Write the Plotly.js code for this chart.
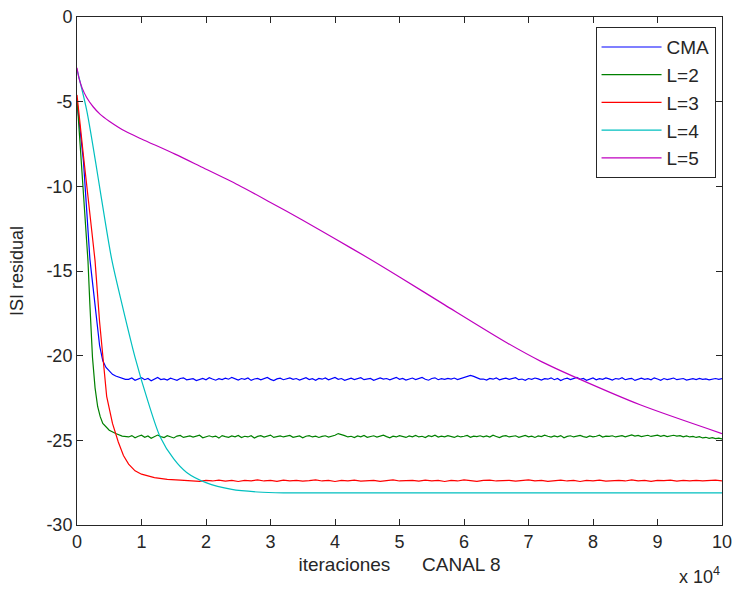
<!DOCTYPE html>
<html>
<head>
<meta charset="utf-8">
<script src="https://cdn.plot.ly/plotly-3.0.1.min.js"></script>
<style>html,body{margin:0;padding:0;background:#fff}#chart{width:732px;height:590px}</style>
</head>
<body>
<div id="chart"></div>
<script>
// ---- data (x in units of 10^4 iterations, y = residual ISI in dB) ----
var seriesNames = ["CMA", "L=2", "L=3", "L=4", "L=5"];
var seriesColors = ["#0000FF", "#008000", "#FF0000", "#00BFBF", "#BF00BF"];

// transient parts
var cmaTx = [0, 0.05, 0.1, 0.15, 0.2, 0.25, 0.3, 0.35, 0.4, 0.45, 0.5, 0.55, 0.6, 0.7, 0.75];
var cmaTy = [-5.0, -6.8, -8.5, -11.4, -14.3, -16.0, -17.8, -19.4, -20.3, -20.7, -20.9, -21.1, -21.2, -21.35, -21.4];

var l2Tx = [0, 0.03, 0.06, 0.1, 0.14, 0.17, 0.2, 0.24, 0.28, 0.32, 0.36, 0.4, 0.5, 0.6, 0.7, 0.75];
var l2Ty = [-4.8, -6.5, -8.4, -10.8, -13.2, -14.4, -17.0, -20.1, -21.9, -23.0, -23.6, -24.0, -24.4, -24.6, -24.75, -24.78];

var l3Tx = [0, 0.05, 0.1, 0.17, 0.23, 0.28, 0.35, 0.4, 0.46, 0.55, 0.64, 0.72, 0.8, 0.9, 1.0, 1.2, 1.4, 1.6, 1.7];
var l3Ty = [-4.6, -6.5, -8.2, -10.6, -12.6, -14.4, -18.0, -20.1, -22.4, -24.0, -25.1, -25.9, -26.4, -26.8, -27.0, -27.2, -27.3, -27.35, -27.38];

var l4x = [0, 0.15, 0.29, 0.37, 0.54, 0.7, 0.9, 1.1, 1.29, 1.5, 1.7, 2.0, 2.4, 2.8, 3.2, 4, 6, 8, 10];
var l4y = [-3.1, -5.5, -8.6, -10.5, -14.35, -17.0, -20.1, -22.7, -24.8, -26.1, -26.9, -27.5, -27.9, -28.05, -28.1, -28.1, -28.1, -28.1, -28.1];

var l5x = [0, 0.03, 0.08, 0.15, 0.25, 0.36, 0.5, 0.75, 1.0, 1.52, 1.9, 2.5, 3.0, 3.5, 4.0, 4.5, 5.0, 5.7, 6.67, 7.2, 7.8, 8.73, 10];
var l5y = [-3.0, -3.6, -4.2, -4.75, -5.3, -5.75, -6.15, -6.75, -7.2, -8.1, -8.8, -9.92, -10.95, -12.0, -13.1, -14.2, -15.35, -17.0, -19.25, -20.35, -21.4, -22.9, -24.6];

// steady-state samples (every 0.05 from 0.8 to 10 for CMA and L=2)
var cmaSteady = [
-21.40,-21.32,-21.45,-21.38,-21.30,-21.42,-21.35,-21.48,-21.36,-21.29,
-21.41,-21.37,-21.44,-21.33,-21.39,-21.46,-21.35,-21.31,-21.43,-21.38,
-21.36,-21.47,-21.40,-21.34,-21.42,-21.30,-21.38,-21.45,-21.36,-21.41,
-21.33,-21.39,-21.28,-21.37,-21.44,-21.35,-21.40,-21.32,-21.46,-21.38,
-21.34,-21.43,-21.36,-21.29,-21.40,-21.47,-21.37,-21.33,-21.42,-21.38,
-21.31,-21.40,-21.35,-21.44,-21.38,-21.30,-21.41,-21.36,-21.45,-21.34,
-21.39,-21.32,-21.43,-21.37,-21.29,-21.40,-21.35,-21.46,-21.38,-21.33,
-21.41,-21.36,-21.30,-21.42,-21.37,-21.34,-21.45,-21.39,-21.31,-21.38,
-21.35,-21.43,-21.36,-21.28,-21.40,-21.34,-21.44,-21.37,-21.32,-21.41,
-21.36,-21.29,-21.39,-21.45,-21.35,-21.31,-21.42,-21.36,-21.40,-21.34,
-21.38,-21.32,-21.41,-21.36,-21.30,-21.24,-21.17,-21.22,-21.31,-21.38,
-21.38,-21.44,-21.34,-21.39,-21.31,-21.43,-21.37,-21.33,-21.40,-21.36,
-21.30,-21.42,-21.38,-21.45,-21.35,-21.40,-21.32,-21.37,-21.44,-21.36,
-21.39,-21.31,-21.42,-21.35,-21.47,-21.38,-21.33,-21.41,-21.36,-21.29,
-21.40,-21.34,-21.45,-21.38,-21.32,-21.43,-21.36,-21.40,-21.31,-21.37,
-21.44,-21.35,-21.39,-21.30,-21.42,-21.37,-21.34,-21.46,-21.38,-21.33,
-21.40,-21.36,-21.43,-21.31,-21.38,-21.45,-21.35,-21.41,-21.37,-21.32,
-21.42,-21.38,-21.35,-21.44,-21.39,-21.36,-21.41,-21.34,-21.40,-21.37,
-21.43,-21.38,-21.35,-21.40,-21.36];

var l2Steady = [
-24.80,-24.72,-24.85,-24.76,-24.70,-24.82,-24.74,-24.88,-24.77,-24.69,
-24.78,-24.84,-24.73,-24.79,-24.86,-24.75,-24.71,-24.83,-24.77,-24.74,
-24.81,-24.76,-24.70,-24.85,-24.78,-24.73,-24.80,-24.75,-24.87,-24.72,
-24.78,-24.82,-24.74,-24.79,-24.71,-24.84,-24.76,-24.80,-24.73,-24.86,
-24.77,-24.72,-24.81,-24.75,-24.69,-24.83,-24.77,-24.74,-24.80,-24.76,
-24.71,-24.82,-24.78,-24.74,-24.85,-24.76,-24.72,-24.80,-24.75,-24.83,
-24.77,-24.73,-24.81,-24.76,-24.70,-24.60,-24.64,-24.72,-24.80,-24.76,
-24.84,-24.74,-24.79,-24.71,-24.82,-24.76,-24.73,-24.81,-24.77,-24.70,
-24.78,-24.85,-24.75,-24.80,-24.72,-24.77,-24.83,-24.74,-24.79,-24.71,
-24.80,-24.76,-24.84,-24.73,-24.78,-24.70,-24.81,-24.75,-24.79,-24.72,
-24.77,-24.83,-24.74,-24.80,-24.76,-24.71,-24.82,-24.75,-24.78,-24.73,
-24.79,-24.74,-24.81,-24.70,-24.77,-24.84,-24.75,-24.72,-24.80,-24.76,
-24.73,-24.82,-24.77,-24.71,-24.79,-24.75,-24.83,-24.74,-24.78,-24.70,
-24.76,-24.81,-24.74,-24.79,-24.72,-24.85,-24.77,-24.73,-24.80,-24.75,
-24.71,-24.78,-24.82,-24.74,-24.79,-24.76,-24.70,-24.81,-24.75,-24.77,
-24.73,-24.80,-24.76,-24.72,-24.79,-24.74,-24.68,-24.75,-24.71,-24.78,
-24.74,-24.70,-24.77,-24.72,-24.69,-24.76,-24.71,-24.78,-24.73,-24.70,
-24.75,-24.72,-24.79,-24.74,-24.80,-24.77,-24.83,-24.78,-24.86,-24.82,
-24.88,-24.84,-24.90,-24.87,-24.92];

// steady-state samples (every 0.1 from 1.8 to 10 for L=3)
var l3Steady = [
-27.38,-27.42,-27.36,-27.40,-27.35,-27.41,-27.37,-27.43,-27.36,-27.39,
-27.34,-27.40,-27.37,-27.42,-27.35,-27.39,-27.36,-27.41,-27.38,-27.34,
-27.40,-27.37,-27.43,-27.36,-27.39,-27.35,-27.41,-27.38,-27.36,-27.42,
-27.37,-27.34,-27.40,-27.38,-27.36,-27.41,-27.35,-27.39,-27.37,-27.43,
-27.36,-27.40,-27.34,-27.38,-27.42,-27.37,-27.35,-27.40,-27.38,-27.36,
-27.41,-27.37,-27.34,-27.39,-27.36,-27.42,-27.38,-27.35,-27.40,-27.37,
-27.43,-27.36,-27.39,-27.35,-27.41,-27.38,-27.36,-27.40,-27.34,-27.39,
-27.37,-27.42,-27.36,-27.38,-27.35,-27.41,-27.37,-27.39,-27.36,-27.40,
-27.38,-27.35,-27.39];

var xTickVals = [0, 1, 2, 3, 4, 5, 6, 7, 8, 9, 10];
var yTickVals = [-30, -25, -20, -15, -10, -5, 0];
var xTitle = "iteraciones\u00A0\u00A0\u00A0\u00A0\u00A0\u00A0CANAL 8";
var yTitle = "ISI residual";
var xExponent = "x 10<sup>4</sup>";

// ---- assemble ----
function joinSeries(tx, ty, steady, start, step) {
  var x = tx.slice(), y = ty.slice();
  for (var i = 0; i < steady.length; i++) {
    x.push(Math.round((start + i * step) * 1000) / 1000);
    y.push(steady[i]);
  }
  return {x: x, y: y};
}
var cma = joinSeries(cmaTx, cmaTy, cmaSteady, 0.8, 0.05);
var l2 = joinSeries(l2Tx, l2Ty, l2Steady, 0.8, 0.05);
var l3 = joinSeries(l3Tx, l3Ty, l3Steady, 1.8, 0.1);

var font = {family: "Liberation Sans, Arial, sans-serif", size: 18, color: "#262626"};
var titleFont = {family: "Liberation Sans, Arial, sans-serif", size: 19, color: "#262626"};

var data = [
  {x: cma.x, y: cma.y, name: seriesNames[0], mode: "lines", line: {color: seriesColors[0], width: 1.2}, legendgroup: "a"},
  {x: l2.x, y: l2.y, name: seriesNames[1], mode: "lines", line: {color: seriesColors[1], width: 1.2}, legendgroup: "b"},
  {x: l3.x, y: l3.y, name: seriesNames[2], mode: "lines", line: {color: seriesColors[2], width: 1.2}, legendgroup: "c"},
  {x: l4x, y: l4y, name: seriesNames[3], mode: "lines", line: {color: seriesColors[3], width: 1.2, shape: "spline", smoothing: 0.8}, legendgroup: "d"},
  {x: l5x, y: l5y, name: seriesNames[4], mode: "lines", line: {color: seriesColors[4], width: 1.2, shape: "spline", smoothing: 0.8}, legendgroup: "e"}
];

var axisCommon = {
  showgrid: false, zeroline: false, showline: true, linecolor: "#262626", linewidth: 1,
  mirror: "ticks", ticks: "inside", ticklen: 6, tickcolor: "#262626", tickwidth: 1,
  tickfont: font, ticklabeloverflow: "allow"
};

var layout = {
  width: 732, height: 590,
  margin: {l: 77, r: 10, t: 17, b: 65},
  paper_bgcolor: "#ffffff", plot_bgcolor: "#ffffff",
  font: font,
  showlegend: true,
  legend: {
    x: 0.99, xanchor: "right", y: 0.98, yanchor: "top",
    bgcolor: "#ffffff", bordercolor: "#262626", borderwidth: 1,
    font: {family: font.family, size: 19, color: "#262626"},
    tracegroupgap: 0, itemwidth: 60
  },
  xaxis: Object.assign({}, axisCommon, {
    range: [0, 10], tickvals: xTickVals, ticktext: xTickVals.map(String),
    title: {text: xTitle, font: titleFont, standoff: 7}
  }),
  yaxis: Object.assign({}, axisCommon, {
    range: [-30, 0], tickvals: yTickVals, ticktext: yTickVals.map(String),
    title: {text: yTitle, font: font, standoff: 18}
  }),
  annotations: [{
    text: xExponent, xref: "paper", yref: "paper", x: 1.0, y: -0.1, xanchor: "right", yanchor: "middle",
    showarrow: false, font: font
  }]
};

Plotly.newPlot("chart", data, layout, {displayModeBar: false, staticPlot: true});
</script>
</body>
</html>
